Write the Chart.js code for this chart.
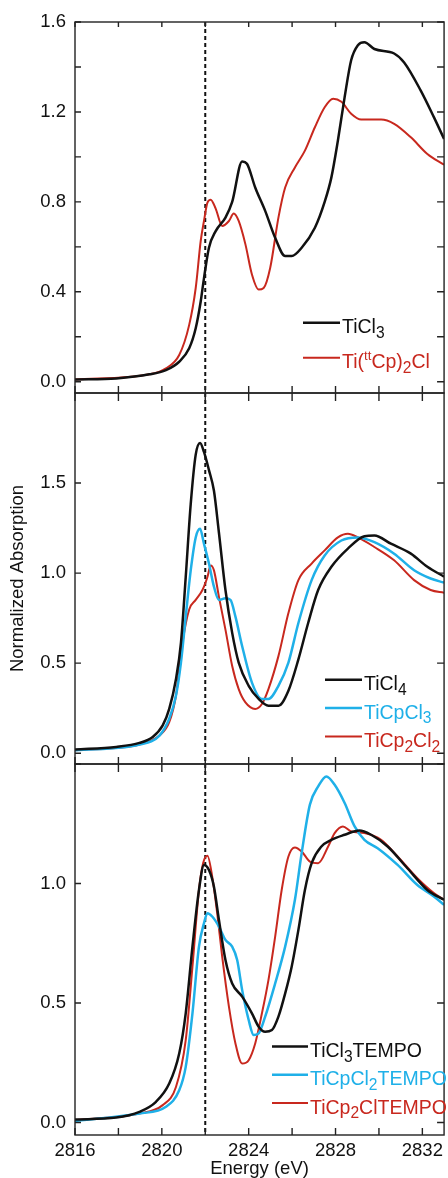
<!DOCTYPE html>
<html>
<head>
<meta charset="utf-8">
<script src="https://cdn.jsdelivr.net/npm/chart.js@4"></script>
<style>
  html, body { margin: 0; padding: 0; background: #fff; }
  canvas { display: block; }
</style>
</head>
<body>
<canvas id="xanesChart" width="448" height="1178"></canvas>
<script>
// shared energy axis (eV)
const energyTicks = [2816, 2820, 2824, 2828, 2832];
const energyMarks = [2816, 2818, 2820, 2822, 2824, 2826, 2828, 2830, 2832];
const edgeEnergy = 2822;

// y tick labels / tick marks per panel
const topTicks = [0, 0.4, 0.8, 1.2, 1.6];
const topMarks = [0, 0.2, 0.4, 0.6, 0.8, 1.0, 1.2, 1.4, 1.6];
const midTicks = [0, 0.5, 1.0, 1.5];
const botTicks = [0, 0.5, 1.0];
const botMarks = [0, 0.5, 1.0, 1.5];

// panel 1
const topNames = ['TiCl_{3}', 'Ti(^{tt}Cp)_{2}Cl'];
const tiCl3E = [2816.00, 2817.90, 2819.43, 2820.19, 2820.80, 2821.26, 2821.56, 2821.79, 2821.94, 2822.17, 2822.48, 2822.93, 2823.24, 2823.70, 2823.92, 2824.30, 2824.76, 2825.22, 2825.68, 2825.98, 2826.44, 2827.05, 2827.50, 2827.81, 2828.11, 2828.42, 2828.72, 2829.03, 2829.33, 2829.79, 2830.70, 2831.16, 2831.92, 2832.53, 2833.00];
const tiCl3Mu = [0.010, 0.015, 0.033, 0.052, 0.089, 0.149, 0.238, 0.357, 0.460, 0.596, 0.670, 0.730, 0.800, 0.980, 0.970, 0.864, 0.760, 0.640, 0.559, 0.559, 0.596, 0.685, 0.800, 0.909, 1.073, 1.266, 1.430, 1.497, 1.510, 1.480, 1.460, 1.420, 1.296, 1.177, 1.080];
const ttCpE = [2816.00, 2819.43, 2820.19, 2820.80, 2821.26, 2821.56, 2821.79, 2821.94, 2822.10, 2822.25, 2822.48, 2822.78, 2823.09, 2823.31, 2823.54, 2823.85, 2824.15, 2824.46, 2824.69, 2824.99, 2825.37, 2825.68, 2826.13, 2826.59, 2827.05, 2827.50, 2827.89, 2828.27, 2828.72, 2829.18, 2830.10, 2830.70, 2831.47, 2832.23, 2833.00];
const ttCpMu = [0.010, 0.033, 0.060, 0.119, 0.253, 0.417, 0.626, 0.715, 0.797, 0.810, 0.770, 0.693, 0.715, 0.748, 0.715, 0.611, 0.477, 0.410, 0.417, 0.506, 0.730, 0.864, 0.953, 1.028, 1.132, 1.221, 1.259, 1.245, 1.192, 1.166, 1.166, 1.147, 1.087, 1.013, 0.965];

// panel 2
const midNames = ['TiCl_{4}', 'TiCpCl_{3}', 'TiCp_{2}Cl_{2}'];
const tiCl4E = [2816.00, 2817.90, 2818.97, 2819.58, 2820.04, 2820.34, 2820.65, 2820.88, 2821.10, 2821.33, 2821.56, 2821.76, 2821.94, 2822.17, 2822.40, 2822.63, 2822.93, 2823.24, 2823.54, 2824.00, 2824.46, 2824.91, 2825.37, 2825.83, 2826.29, 2826.74, 2827.20, 2827.81, 2828.57, 2829.33, 2829.79, 2830.55, 2831.47, 2832.23, 2833.00];
const tiCl4Mu = [0.020, 0.035, 0.057, 0.090, 0.154, 0.246, 0.411, 0.613, 0.978, 1.383, 1.658, 1.723, 1.673, 1.572, 1.457, 1.224, 0.906, 0.668, 0.503, 0.374, 0.301, 0.264, 0.264, 0.347, 0.521, 0.723, 0.906, 1.035, 1.136, 1.205, 1.209, 1.163, 1.108, 1.035, 0.980];
const cpCl3E = [2816.00, 2818.97, 2819.89, 2820.34, 2820.65, 2820.88, 2821.10, 2821.33, 2821.56, 2821.76, 2821.94, 2822.17, 2822.40, 2822.63, 2822.93, 2823.16, 2823.39, 2823.70, 2824.15, 2824.61, 2824.91, 2825.37, 2825.83, 2826.29, 2826.90, 2827.50, 2828.27, 2829.03, 2829.79, 2830.70, 2831.62, 2832.38, 2833.00];
const cpCl3Mu = [0.016, 0.048, 0.098, 0.191, 0.319, 0.503, 0.758, 1.015, 1.198, 1.246, 1.163, 1.053, 0.925, 0.851, 0.860, 0.851, 0.758, 0.594, 0.392, 0.301, 0.301, 0.374, 0.503, 0.723, 0.961, 1.098, 1.181, 1.198, 1.172, 1.108, 1.016, 0.970, 0.947];
const cp2Cl2E = [2816.00, 2818.97, 2819.89, 2820.34, 2820.65, 2820.95, 2821.26, 2821.56, 2821.87, 2822.10, 2822.25, 2822.40, 2822.63, 2822.93, 2823.24, 2823.54, 2823.85, 2824.30, 2824.61, 2824.91, 2825.37, 2825.83, 2826.29, 2826.90, 2827.50, 2828.11, 2828.57, 2829.03, 2829.79, 2830.70, 2831.62, 2832.38, 2833.00];
const cp2Cl2Mu = [0.016, 0.048, 0.098, 0.172, 0.319, 0.613, 0.798, 0.851, 0.906, 0.978, 1.042, 1.015, 0.868, 0.686, 0.484, 0.356, 0.282, 0.246, 0.273, 0.356, 0.539, 0.778, 0.961, 1.053, 1.126, 1.198, 1.218, 1.198, 1.145, 1.071, 0.961, 0.906, 0.891];

// panel 3
const botNames = ['TiCl_{3}TEMPO', 'TiCpCl_{2}TEMPO', 'TiCp_{2}ClTEMPO'];
const cl3TempoE = [2816.00, 2817.90, 2818.97, 2819.73, 2820.34, 2820.80, 2821.10, 2821.41, 2821.71, 2821.94, 2822.17, 2822.40, 2822.63, 2822.93, 2823.24, 2823.70, 2824.15, 2824.46, 2824.76, 2825.07, 2825.37, 2825.68, 2825.98, 2826.29, 2826.59, 2826.90, 2827.35, 2827.81, 2828.42, 2829.10, 2829.64, 2830.40, 2831.31, 2832.23, 2833.00];
const cl3TempoMu = [0.013, 0.021, 0.045, 0.087, 0.163, 0.289, 0.457, 0.736, 0.973, 1.078, 1.057, 0.987, 0.848, 0.680, 0.582, 0.527, 0.457, 0.401, 0.380, 0.387, 0.443, 0.540, 0.652, 0.806, 0.973, 1.085, 1.155, 1.183, 1.204, 1.222, 1.204, 1.155, 1.064, 0.973, 0.932];
const cpCl2TempoE = [2816.00, 2818.97, 2820.19, 2820.80, 2821.10, 2821.41, 2821.71, 2821.94, 2822.10, 2822.32, 2822.63, 2822.93, 2823.24, 2823.47, 2823.70, 2824.00, 2824.23, 2824.46, 2824.76, 2825.22, 2825.68, 2826.13, 2826.44, 2826.82, 2827.20, 2827.58, 2827.96, 2828.42, 2828.88, 2829.33, 2829.94, 2830.86, 2831.77, 2832.53, 2833.00];
const cpCl2TempoMu = [0.007, 0.038, 0.066, 0.135, 0.233, 0.457, 0.736, 0.834, 0.876, 0.862, 0.820, 0.764, 0.736, 0.680, 0.554, 0.429, 0.366, 0.373, 0.443, 0.582, 0.736, 0.932, 1.127, 1.330, 1.406, 1.448, 1.413, 1.337, 1.239, 1.183, 1.148, 1.078, 0.994, 0.946, 0.911];
const cp2ClTempoE = [2816.00, 2818.97, 2820.04, 2820.65, 2821.10, 2821.41, 2821.71, 2821.90, 2822.10, 2822.32, 2822.55, 2822.78, 2823.09, 2823.39, 2823.70, 2824.00, 2824.30, 2824.61, 2824.91, 2825.22, 2825.52, 2825.83, 2826.13, 2826.44, 2826.82, 2827.20, 2827.66, 2827.96, 2828.34, 2828.72, 2829.33, 2830.10, 2830.86, 2831.77, 2832.53, 2833.00];
const cp2ClTempoMu = [0.010, 0.038, 0.073, 0.149, 0.345, 0.652, 0.973, 1.085, 1.116, 1.029, 0.876, 0.694, 0.485, 0.331, 0.247, 0.261, 0.331, 0.457, 0.596, 0.778, 0.973, 1.113, 1.151, 1.134, 1.092, 1.085, 1.155, 1.211, 1.239, 1.218, 1.211, 1.183, 1.113, 1.022, 0.960, 0.932];

const BLACK = '#111111';
const CYAN = '#1fb0e8';
const RED = '#c8281e';
const FONT = '"Liberation Sans", Arial, Helvetica, sans-serif';

const toPoints = (xs, ys) => xs.map((x, i) => ({ x: x, y: ys[i] }));

function series(name, xs, ys, color, width, axis) {
    return {
        label: name,
        data: toPoints(xs, ys),
        borderColor: color,
        backgroundColor: color,
        borderWidth: width,
        pointRadius: 0,
        cubicInterpolationMode: 'monotone',
        fill: false,
        yAxisID: axis
    };
}

// text with _{sub} and ^{sup}
function drawRich(ctx, str, x, y, size) {
    const parts = str.split(/([_^]\{[^}]*\})/).filter(p => p.length);
    for (const p of parts) {
        let text = p, s = size, dy = 0;
        if (p[0] === '_') { text = p.slice(2, -1); s = size * 0.8; dy = size * 0.25; }
        else if (p[0] === '^') { text = p.slice(2, -1); s = size * 0.68; dy = -size * 0.42; }
        ctx.font = s + 'px ' + FONT;
        ctx.fillText(text, x, y + dy);
        x += ctx.measureText(text).width;
    }
}

// where each panel's key sits, relative to the panel's top edge
const panelKeys = {
    yTop: { x0: 303, x1: 340, rows: [300.8, 335.8], names: topNames, colors: [BLACK, RED], widths: [2.5, 2] },
    yMid: { x0: 325, x1: 362, rows: [286.7, 315, 343.4], names: midNames, colors: [BLACK, CYAN, RED], widths: [2.5, 2.5, 2] },
    yBot: { x0: 272, x1: 308, rows: [282.5, 310.8, 339.1], names: botNames, colors: [BLACK, CYAN, RED], widths: [2.5, 2.5, 2] }
};
const panelMarks = { yTop: topMarks, yMid: midTicks, yBot: botMarks };

const panelFrame = {
    id: 'panelFrame',
    beforeDatasetsDraw(chart) {
        const { ctx, chartArea, scales } = chart;
        const ex = scales.x.getPixelForValue(edgeEnergy);
        ctx.save();
        ctx.strokeStyle = BLACK;
        ctx.lineWidth = 2;
        ctx.setLineDash([4, 3]);
        ctx.beginPath();
        ctx.moveTo(ex, chartArea.top);
        ctx.lineTo(ex, chartArea.bottom);
        ctx.stroke();
        ctx.restore();
    },
    afterDatasetsDraw(chart) {
        const { ctx, chartArea, scales } = chart;
        const L = chartArea.left, R = chartArea.right;
        ctx.save();
        ctx.strokeStyle = '#222';
        ctx.lineWidth = 1.4;
        for (const id of ['yTop', 'yMid', 'yBot']) {
            const s = scales[id];
            const T = s.top, B = s.bottom;
            ctx.strokeRect(L, T, R - L, B - T);
            ctx.beginPath();
            for (const e of energyMarks) {
                const px = scales.x.getPixelForValue(e);
                ctx.moveTo(px, B); ctx.lineTo(px, B - 7);
                if (id !== 'yTop') { ctx.moveTo(px, T); ctx.lineTo(px, T + 8); }
                else { ctx.moveTo(px, T); ctx.lineTo(px, T + 5); }
            }
            for (const v of panelMarks[id]) {
                const py = s.getPixelForValue(v);
                ctx.moveTo(L, py); ctx.lineTo(L + 6, py);
                ctx.moveTo(R, py); ctx.lineTo(R - 7, py);
            }
            ctx.stroke();

            // key
            const k = panelKeys[id];
            k.rows.forEach((dy, i) => {
                const y = T + dy;
                ctx.strokeStyle = k.colors[i];
                ctx.lineWidth = k.widths[i];
                ctx.beginPath();
                ctx.moveTo(k.x0, y); ctx.lineTo(k.x1, y);
                ctx.stroke();
                ctx.fillStyle = k.colors[i];
                ctx.textBaseline = 'alphabetic';
                drawRich(ctx, k.names[i], k.x1 + 2, y + 10.5, 19.5);
            });
            ctx.strokeStyle = '#222';
            ctx.lineWidth = 1.4;
        }
        ctx.restore();
    }
};

function yAxis(min, max, ticks, title) {
    return {
        type: 'linear',
        position: 'left',
        stack: 'panels',
        stackWeight: 1,
        min: min,
        max: max,
        afterFit: s => { s.width = 75; },
        afterBuildTicks: s => { s.ticks = ticks.map(v => ({ value: v })); },
        grid: { display: false, drawTicks: false },
        border: { display: false },
        ticks: {
            padding: 9,
            color: BLACK,
            font: { family: FONT, size: 18.5 },
            callback: v => v.toFixed(1)
        },
        title: {
            display: !!title,
            text: title || '',
            color: BLACK,
            font: { family: FONT, size: 18.5 },
            padding: { top: 7, bottom: 0 }
        }
    };
}

Chart.defaults.font.family = FONT;

new Chart(document.getElementById('xanesChart').getContext('2d'), {
    type: 'line',
    data: {
        datasets: [
            series(topNames[0], tiCl3E, tiCl3Mu, BLACK, 2.5, 'yTop'),
            series(topNames[1], ttCpE, ttCpMu, RED, 2, 'yTop'),
            series(midNames[0], tiCl4E, tiCl4Mu, BLACK, 2.5, 'yMid'),
            series(midNames[1], cpCl3E, cpCl3Mu, CYAN, 2.5, 'yMid'),
            series(midNames[2], cp2Cl2E, cp2Cl2Mu, RED, 2, 'yMid'),
            series(botNames[0], cl3TempoE, cl3TempoMu, BLACK, 2.5, 'yBot'),
            series(botNames[1], cpCl2TempoE, cpCl2TempoMu, CYAN, 2.5, 'yBot'),
            series(botNames[2], cp2ClTempoE, cp2ClTempoMu, RED, 2, 'yBot')
        ]
    },
    options: {
        responsive: false,
        animation: false,
        events: [],
        layout: { padding: { top: 22, right: 1, bottom: 0, left: 0 } },
        plugins: { legend: { display: false }, tooltip: { enabled: false } },
        scales: {
            x: {
                type: 'linear',
                min: 2816,
                max: 2833,
                afterFit: s => { s.height = 43; },
                afterBuildTicks: s => { s.ticks = energyTicks.map(v => ({ value: v })); },
                grid: { display: false, drawTicks: false },
                border: { display: false },
                ticks: {
                    padding: 5,
                    color: BLACK,
                    maxRotation: 0,
                    font: { family: FONT, size: 18.5 },
                    callback: v => String(v)
                },
                title: {
                    display: true,
                    text: 'Energy (eV)',
                    color: BLACK,
                    font: { family: FONT, size: 18.5 },
                    padding: { top: 0, bottom: -2 }
                }
            },
            yBot: yAxis(-0.052, 1.5, botTicks, ''),
            yMid: yAxis(-0.06, 2.0, midTicks, 'Normalized Absorption'),
            yTop: yAxis(-0.05, 1.6, topTicks, '')
        }
    },
    plugins: [panelFrame]
});
</script>
</body>
</html>
